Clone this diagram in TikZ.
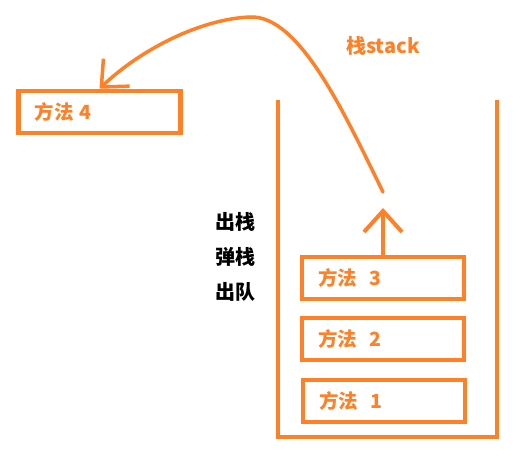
\documentclass[tikz,border=0pt]{standalone}
\usepackage{fontspec}
\setmainfont{Noto Sans CJK SC}
\usepackage{tikz}
\usetikzlibrary{arrows.meta}

\definecolor{stackorange}{RGB}{255,128,39}
\tikzset{
  methodbox/.style={draw=stackorange, line width=4.5pt, text=stackorange,
    font=\bfseries\fontsize{19.5}{22}\selectfont, minimum height=42pt,
    text width=130pt, inner xsep=16pt, align=left},
  popword/.style={font=\bfseries\fontsize{20}{22}\selectfont},
  barb/.style={-{Straight Barb[length=21pt,width=38pt]}}
}

\begin{document}
\begin{tikzpicture}[x=1pt, y=-1pt]
        \useasboundingbox (0, 0) rectangle (519, 457);
        \node[methodbox](m4) at (99.5, 112) {方法 4};
        \node[methodbox](m3) at (383, 278) {方法\ \ 3};
        \node[methodbox](m2) at (383, 339) {方法\ \ 2};
        \node[methodbox](m1) at (384, 401) {方法\ \ 1};

        % the stack itself
        \draw[stackorange, line width=4.5pt]
              (278, 100) -- (278, 437) -- (497, 437) -- (497, 100);

        \node[popword, text=stackorange](title) at (383, 46) {栈stack};
        \node[popword](w1) at (235, 222) {出栈};
        \node[popword](w2) at (235, 257) {弹栈};
        \node[popword](w3) at (235, 292) {出队};

        \coordinate (up) at (383, 208);
        \coordinate (out) at (383, 192);
        \draw[barb, stackorange, line width=4pt, line cap=round] (m3.north) -- (up);
        \draw[barb, stackorange, line width=3.5pt, line cap=round]
              (out) .. controls (345, 115) and (300, 15) .. (250, 17)
              .. controls (200, 19) and (140, 50) .. (m4.north);
      \end{tikzpicture}
\end{document}
